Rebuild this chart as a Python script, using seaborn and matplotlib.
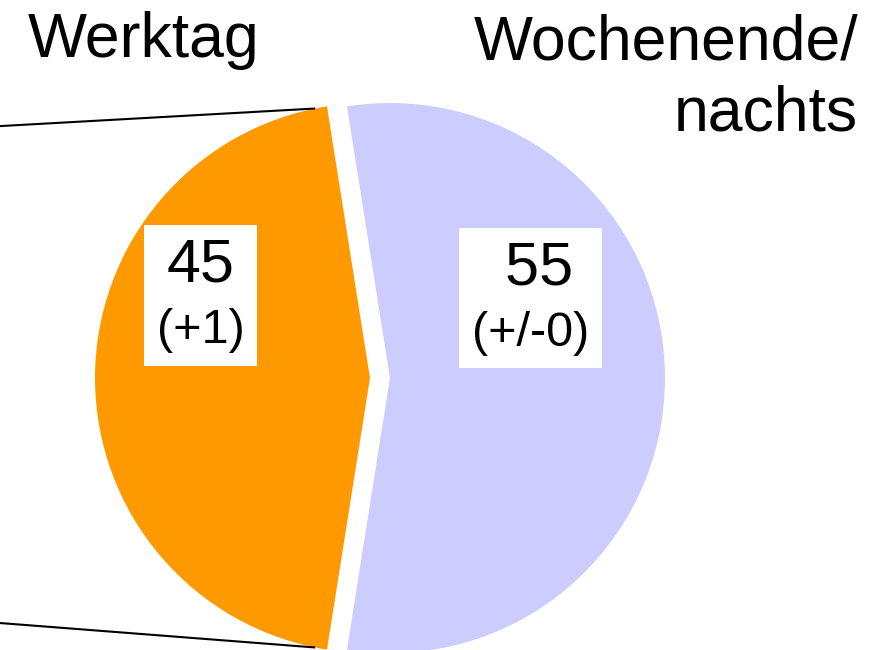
import numpy as np
import matplotlib as mpl
mpl.use('Agg')
import matplotlib.pyplot as plt
from matplotlib.offsetbox import TextArea, VPacker, AnnotationBbox
import seaborn as sns

# data
categories = ['Werktag', 'Wochenende/\nnachts']
shares = [45, 55]
changes = ['(+1)', '(+/-0)']
value_labels = ['45', ' 55']
hex_colors = ['#FF9900', '#CCCCFF']

sns.set_theme(style='white')
plt.rcParams['font.family'] = ['Liberation Sans', 'DejaVu Sans']

colors = sns.color_palette(hex_colors)

fig = plt.figure(figsize=(8.85, 6.5), dpi=100)
ax = fig.add_axes([0, 0, 1, 1])

wedges, _ = ax.pie(shares, colors=colors, startangle=99, counterclock=True,
                   explode=[10 / 275, 10 / 275], radius=1.0,
                   wedgeprops=dict(linewidth=0))

# 275 px per data unit, pie centre at (380, 378) px from top-left
scale = 275.0
ax.set_xlim(-380 / scale, (885 - 380) / scale)
ax.set_ylim(-(650 - 378) / scale, 378 / scale)
ax.set_aspect('equal', adjustable='datalim')
ax.axis('off')

# connector lines (pie-of-pie, coming from a chart further left)
w = wedges[0]
cx, cy = w.center
x_left = ax.get_xlim()[0]
for ang, yl in [(w.theta1 + 2.5, 0.916), (w.theta2 - 2.5, -0.891)]:
    xe = cx + w.r * np.cos(np.radians(ang))
    ye = cy + w.r * np.sin(np.radians(ang))
    ax.plot([x_left, xe], [yl, ye], color='black', lw=1.5, solid_capstyle='butt')

# value boxes
box_pos = [(-0.653, 0.300), (0.547, 0.291)]
for val, chg, pos in zip(value_labels, changes, box_pos):
    big = TextArea(val, textprops=dict(size=44, color='black'))
    small = TextArea(chg, textprops=dict(size=35, color='black'))
    pack = VPacker(children=[big, small], align='center', pad=9, sep=10)
    ab = AnnotationBbox(pack, pos, xycoords='data', frameon=True, pad=0,
                        box_alignment=(0.5, 0.5),
                        bboxprops=dict(facecolor='white', edgecolor='none'))
    ax.add_artist(ab)

# category titles
fig.text(28 / 885, 1 - 57 / 650, categories[0], ha='left', va='baseline',
         fontsize=45, color='black')
fig.text(858 / 885, 1 - 13 / 650, categories[1], ha='right', va='top',
         multialignment='right', fontsize=45, color='black', linespacing=1.28)

fig.savefig('out.png', dpi=100)
